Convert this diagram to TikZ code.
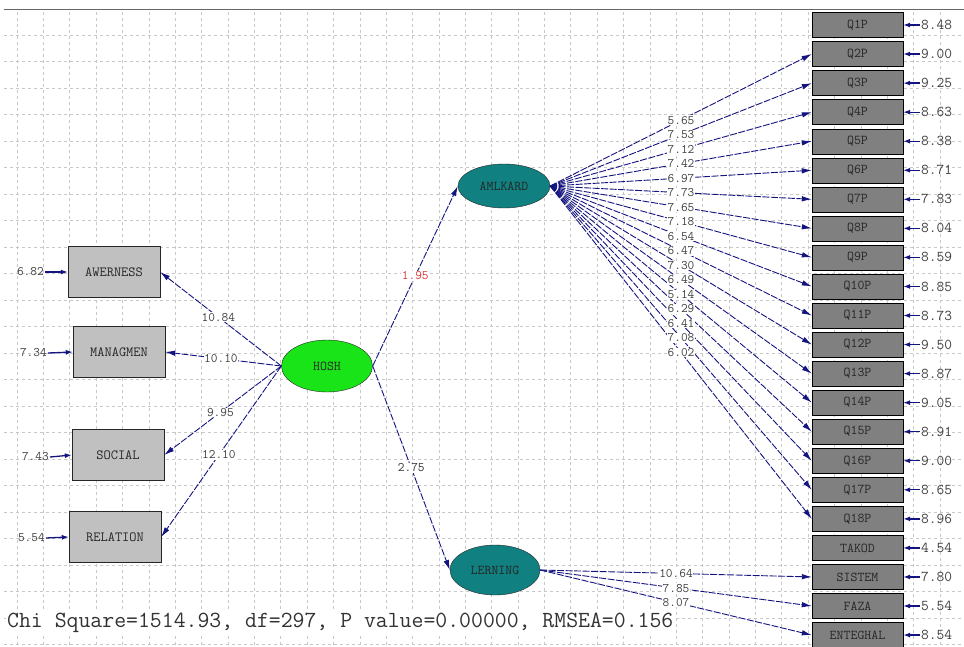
\documentclass[tikz,border=0pt]{standalone}
\usepackage{fontspec}
\usetikzlibrary{arrows.meta,shapes.geometric}
\definecolor{navy}{RGB}{20,20,128}
\definecolor{rgray}{RGB}{128,128,128}
\definecolor{lgray}{RGB}{192,192,192}
\definecolor{teal2}{RGB}{16,128,128}
\definecolor{green2}{RGB}{24,228,24}
\definecolor{gridc}{RGB}{200,200,200}
\definecolor{redlab}{RGB}{225,55,55}
\tikzset{
  gridline/.style={draw=gridc, line width=0.6pt, dash pattern=on 3pt off 3pt},
  rbox/.style={draw=black, fill=rgray, minimum width=91pt, minimum height=25pt, inner sep=0pt, font=\ttfamily\fontsize{13.5}{13.5}\selectfont, text=black!85},
  lbox/.style={draw=black!85, fill=lgray, minimum width=92pt, minimum height=51pt, inner sep=0pt, font=\ttfamily\fontsize{14}{14}\selectfont, text=black!85},
  latent/.style={ellipse, draw=black!85, inner sep=0pt, font=\ttfamily\fontsize{13.5}{13.5}\selectfont, text=black!85},
  loadpath/.style={draw=navy, line width=0.9pt, dash pattern=on 7pt off 1.5pt, -{Latex[length=10pt,width=5.5pt]}},
  errarrow/.style={draw=navy, line width=1.3pt, -{Latex[length=7pt,width=5pt]}},
  coef/.style={fill=white, inner sep=0.6pt, font=\ttfamily\fontsize{13}{13}\selectfont, text=black!75},
  errval/.style={inner sep=1pt, font=\ttfamily\fontsize{13}{13}\selectfont, text=black!75},
  rerrval/.style={inner sep=1pt, font=\ttfamily\fontsize{15}{15}\selectfont, text=black!75}
}
\begin{document}
\begin{tikzpicture}[x=1pt,y=-1pt]
\useasboundingbox (0,0) rectangle (964,646);
\fill[white] (0,0) rectangle (964,646);
% grid
\foreach \i in {0,...,35} \draw[gridline] ({17+26.37*\i},12) -- ({17+26.37*\i},646);
\foreach \j in {0,...,23} \draw[gridline] (4,{35+26.5*\j}) -- (964,{35+26.5*\j});
\draw[draw=black!60, line width=1.5pt] (4,9.5) -- (964,9.5);

% latent variables
\node[latent, fill=teal2, minimum width=92pt, minimum height=44pt] (aml) at (504,186) {AMLKARD};
\node[latent, fill=green2, minimum width=91pt, minimum height=52pt] (hosh) at (327,366) {HOSH};
\node[latent, fill=teal2, minimum width=90pt, minimum height=50pt] (ler) at (495,570) {LERNING};

% left indicators
\node[lbox] (awe) at (114,272) {AWERNESS};
\node[lbox] (man) at (119,352) {MANAGMEN};
\node[lbox] (soc) at (118,455) {SOCIAL};
\node[lbox] (rel) at (115,537) {RELATION};
\foreach \b/\v/\x/\y in {awe/6.82/45/272, man/7.34/48/353, soc/7.43/50/457, rel/5.54/46/538}{
  \node[errval, anchor=east] (d\b) at (\x,\y) {\v};
  \draw[errarrow] (d\b.east) -- (\b.west);
}

% right indicators
\foreach \n/\lab/\val [count=\k from 0] in {q1/Q1P/8.48, q2/Q2P/9.00, q3/Q3P/9.25, q4/Q4P/8.63, q5/Q5P/8.38, q6/Q6P/8.71, q7/Q7P/7.83, q8/Q8P/8.04, q9/Q9P/8.59, q10/Q10P/8.85, q11/Q11P/8.73, q12/Q12P/9.50, q13/Q13P/8.87, q14/Q14P/9.05, q15/Q15P/8.91, q16/Q16P/9.00, q17/Q17P/8.65, q18/Q18P/8.96, tak/TAKOD/4.54, sis/SISTEM/7.80, faz/FAZA/5.54, ent/ENTEGHAL/8.54}{
  \node[rbox] (\n) at (857.5,{25+29.05*\k}) {\lab};
  \node[rerrval, anchor=west] (e\n) at (920,{25+29.05*\k}) {\val};
  \draw[errarrow] (e\n.west) -- (\n.east);
}

% structural paths
\draw[loadpath] (hosh.east) -- (aml.west);
\draw[loadpath] (hosh.east) -- (ler.west);
\path (hosh.east) -- node[coef, text=redlab] {1.95} (aml.west);
\path (hosh.east) -- node[coef, text=black!80] {2.75} (ler.west);

% HOSH loadings
\foreach \b in {awe,man,soc,rel} \draw[loadpath] (hosh.west) -- (\b.east);
\foreach \b/\v in {awe/10.84, man/10.10, soc/9.95, rel/12.10}
  \path (hosh.west) -- node[coef, pos=0.52] {\v} (\b.east);

% AMLKARD loadings
\foreach \n in {q2,q3,q4,q5,q6,q7,q8,q9,q10,q11,q12,q13,q14,q15,q16,q17,q18}
  \draw[loadpath] (aml.east) -- (\n.west);
\foreach \n/\v in {q2/5.65, q3/7.53, q4/7.12, q5/7.42, q6/6.97, q7/7.73, q8/7.65, q9/7.18, q10/6.54, q11/6.47, q12/7.30, q13/6.49, q14/5.14, q15/6.29, q16/6.41, q17/7.08, q18/6.02}
  \path (aml.east) -- node[coef] {\v} (\n.west);

% LERNING loadings
\foreach \n in {sis,faz,ent} \draw[loadpath] (ler.east) -- (\n.west);
\foreach \n/\v in {sis/10.64, faz/7.85, ent/8.07}
  \path (ler.east) -- node[coef] {\v} (\n.west);

% fit statistics
\node[anchor=west, fill=white, inner sep=1pt, font=\ttfamily\fontsize{23.1}{23.1}\selectfont, text=black!80] (chi) at (6,623) {Chi Square=1514.93, df=297, P value=0.00000, RMSEA=0.156};
\end{tikzpicture}
\end{document}
